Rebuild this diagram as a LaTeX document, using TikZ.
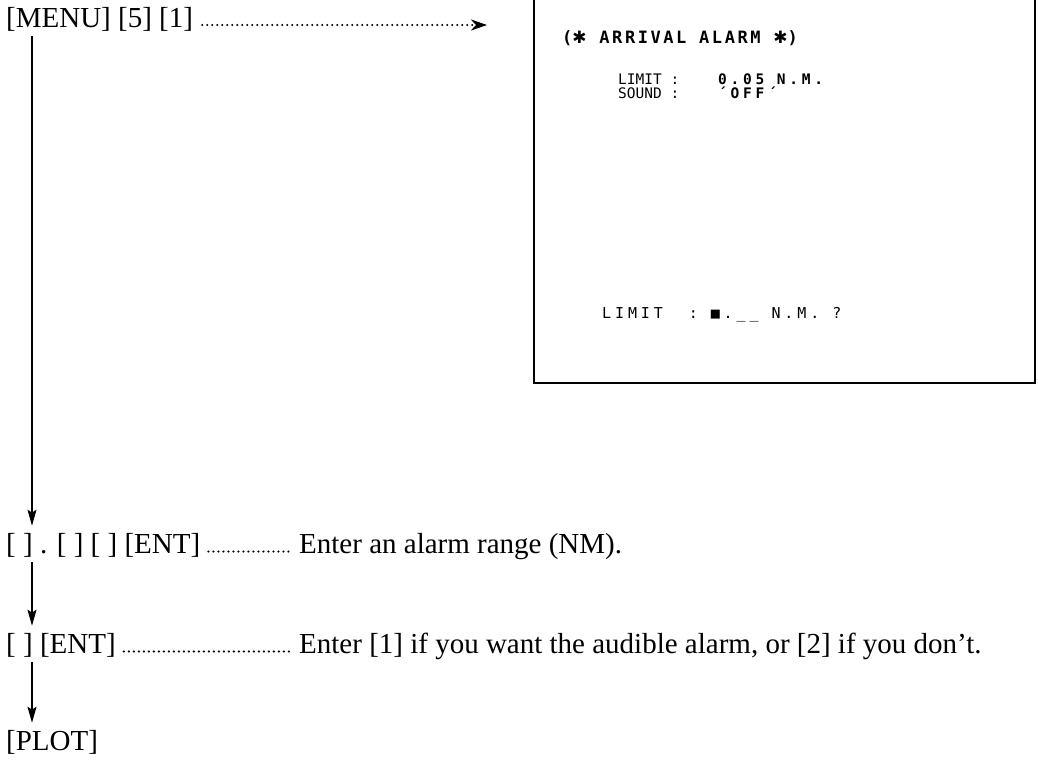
\documentclass[tikz,border=0pt]{standalone}
\usepackage{fontspec}
\setmainfont{Liberation Serif}
\newfontfamily\crtfont{DejaVu Sans Mono}
\newfontfamily\crtwide[LetterSpace=26]{DejaVu Sans Mono}
\newfontfamily\crttitle[LetterSpace=15]{DejaVu Sans Mono}
\newfontfamily\starfont{DejaVu Sans}
\usetikzlibrary{arrows.meta,positioning}

\begin{document}
\begin{tikzpicture}[
    x=1pt,y=-1pt,
    keys/.style={anchor=base west,inner sep=1pt,font=\fontsize{29}{31}\selectfont},
    label/.style={anchor=base west,inner sep=0pt,font=\crtfont\fontsize{14.5}{15}\selectfont},
    value/.style={anchor=base west,inner sep=0pt,font=\crtwide\bfseries\fontsize{14.5}{15}\selectfont},
    flow/.style={-{Stealth[length=16pt,width=9pt,inset=3pt]},line width=1.5pt,
      shorten <=4pt,shorten >=6pt},
    leader/.style={line width=2.4pt,line cap=round,dash pattern=on 0pt off 5pt},
    frame/.style={line width=2.2pt}
  ]
    \useasboundingbox (0,0) rectangle (1038,761);
    % key sequence
    \node[keys] (menu) at (5,27) {[MENU] [5] [1]};
    \node[keys] (rkey) at (5,553) {[ ] . [ ] [ ] [ENT]};
    \node[keys] (rtext) at (298,553) {Enter an alarm range (NM).};
    \node[keys] (skey) at (5,653) {[ ] [ENT]};
    \node[keys] (stext) at (298,653) {Enter [1] if you want the audible alarm, or [2] if you don't.};
    \node[keys] (plot) at (5,750) {[PLOT]};
    \coordinate (spine) at (32,0);
    \coordinate (menutip) at (487,0);
    \draw[flow] (menu.south -| spine)--(rkey.north -| spine);
    \draw[flow] (rkey.south -| spine)--(skey.north -| spine);
    \draw[flow] (skey.south -| spine)--(plot.north -| spine);
    % dotted leaders
    \draw[leader,-{Stealth[length=16pt,width=11pt,inset=5pt]}]
      ([xshift=8pt,yshift=2pt]menu.base east)--([yshift=2pt]menu.base east -| menutip);
    \draw[leader] ([xshift=7pt,yshift=1.5pt]rkey.base east)--([xshift=-6pt,yshift=1.5pt]rtext.base west);
    \draw[leader] ([xshift=7pt,yshift=1.5pt]skey.base east)--([xshift=-6pt,yshift=1.5pt]stext.base west);
    % screen
    \coordinate (scrTL) at (534,0);
    \coordinate (scrBR) at (1035,383);
    \draw[frame] (scrTL) |- (scrBR)--(scrBR |- scrTL);
    \node[anchor=base west,inner sep=0pt,font=\crttitle\bfseries\fontsize{17}{18}\selectfont]
      (title) at (562,43) {({\starfont ✱} ARRIVAL ALARM {\starfont ✱})};
    \node[label] (limit) at (618,84) {LIMIT :};
    \node[value] (limitval) at (718,84) {0.05 N.M.};
    \node[label] (sound) at (618,98) {SOUND :};
    \node[value] (soundval) at (718,98) {´OFF´};
    \node[anchor=base west,inner sep=0pt,font=\crtwide\fontsize{15}{16}\selectfont]
      (prompt) at (602,318) {LIMIT\ \ :\ ■.\_\_\ N.M.\ ?};
\end{tikzpicture}
\end{document}
